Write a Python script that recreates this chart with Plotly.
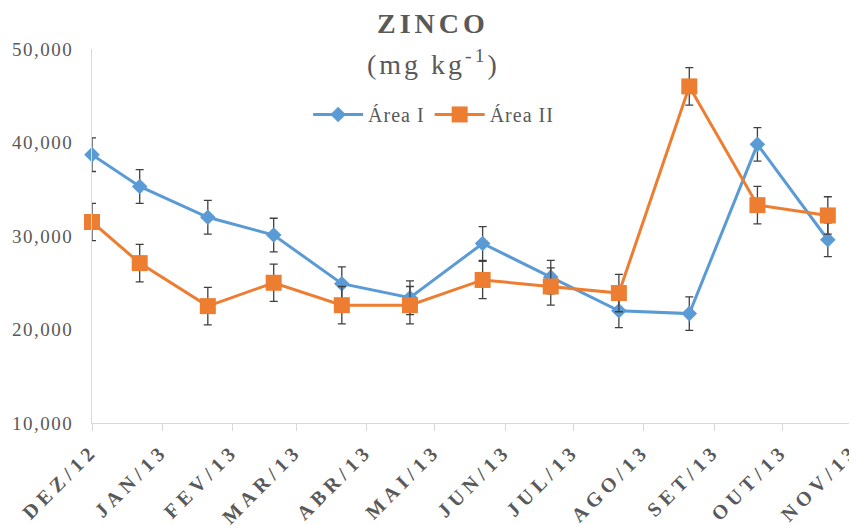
import plotly.graph_objects as go

# sampling dates (x positions on a date axis) and month labels
sample_dates = ["2012-12-01", "2012-12-22", "2013-01-21", "2013-02-19", "2013-03-21",
                "2013-04-20", "2013-05-22", "2013-06-21", "2013-07-21", "2013-08-21",
                "2013-09-20", "2013-10-21"]
month_ticks = ["2012-12-01", "2013-01-01", "2013-02-01", "2013-03-01", "2013-04-01",
               "2013-05-01", "2013-06-01", "2013-07-01", "2013-08-01", "2013-09-01",
               "2013-10-01", "2013-11-01"]
month_labels = ["DEZ/12", "JAN/13", "FEV/13", "MAR/13", "ABR/13", "MAI/13",
                "JUN/13", "JUL/13", "AGO/13", "SET/13", "OUT/13", "NOV/13"]

area1 = [38700, 35300, 32000, 30100, 24900, 23400, 29200, 25600, 22000, 21700, 39800, 29600]
area1_err = [1800, 1800, 1800, 1800, 1800, 1800, 1800, 1800, 1800, 1800, 1800, 1800]
area2 = [31500, 27100, 22500, 25000, 22600, 22600, 25300, 24600, 23900, 46000, 33300, 32200]
area2_err = [2000, 2000, 2000, 2000, 2000, 2000, 2000, 2000, 2000, 2000, 2000, 2000]

y_ticks = [10000, 20000, 30000, 40000, 50000]

SERIF = "Liberation Serif, Times New Roman, serif"
GRAY = "#595959"

def spaced(t, px):
    return f'<span style="letter-spacing:{px}px">{t}</span>'

fig = go.Figure()
fig.add_trace(go.Scatter(
    x=sample_dates, y=area1, name=spaced("Área I", 1), mode="lines+markers",
    line=dict(color="#5B9BD5", width=3),
    marker=dict(symbol="diamond", size=12, color="#5B9BD5"),
    error_y=dict(type="data", array=area1_err, color="#404040", thickness=1.3, width=4),
    cliponaxis=False,
))
fig.add_trace(go.Scatter(
    x=sample_dates, y=area2, name=spaced("Área II", 1), mode="lines+markers",
    line=dict(color="#ED7D31", width=3),
    marker=dict(symbol="square", size=16, color="#ED7D31"),
    error_y=dict(type="data", array=area2_err, color="#404040", thickness=1.3, width=4),
    cliponaxis=False,
))

# page has an 8px body margin, so the figure is sized to fit inside the window
fig.update_layout(
    width=849, height=517,
    margin=dict(l=84, r=4, t=41, b=102),
    plot_bgcolor="white", paper_bgcolor="white",
    font=dict(family=SERIF, color=GRAY),
    showlegend=True,
    legend=dict(orientation="h", x=0.284, y=0.825, xanchor="left", yanchor="middle",
                font=dict(size=20, family=SERIF, color=GRAY), bgcolor="rgba(0,0,0,0)",
                itemwidth=50, tracegroupgap=0),
    annotations=[
        dict(text="<b>" + spaced("ZINCO", 4) + "</b>", xref="paper", yref="paper",
             x=(433 - 92) / 761, y=1.0, yanchor="bottom", xanchor="center",
             yshift=8, showarrow=False, font=dict(size=28, family=SERIF, color=GRAY)),
        dict(text=spaced("(mg kg<sup>-1</sup>)", 3), xref="paper", yref="paper",
             x=(433 - 92) / 761, y=1.0, yanchor="top", xanchor="center",
             yshift=6, showarrow=False, font=dict(size=28, family=SERIF, color=GRAY)),
    ],
)
fig.update_xaxes(
    type="date", range=["2012-12-01", "2013-11-01 02:00"],
    tickmode="array", tickvals=month_ticks,
    ticktext=["<b>" + spaced(t, 5) + "</b>" for t in month_labels],
    tickangle=-45, tickfont=dict(size=20, family=SERIF, color=GRAY),
    showline=True, linecolor="#D9D9D9", linewidth=1,
    ticks="outside", ticklen=7, tickcolor="#D9D9D9",
    showgrid=False, zeroline=False, automargin=False,
    ticklabeloverflow="allow",
)
fig.update_yaxes(
    range=[10000, 50000], tickmode="array", tickvals=y_ticks,
    ticktext=[spaced(f"{v:,}", 1.5) for v in y_ticks],
    tickfont=dict(size=19, family=SERIF, color=GRAY),
    showline=True, linecolor="#D9D9D9", linewidth=1,
    showgrid=False, zeroline=False, ticks="", ticklabelstandoff=14,
    automargin=False, ticklabeloverflow="allow",
)

fig.write_html("out.html")
